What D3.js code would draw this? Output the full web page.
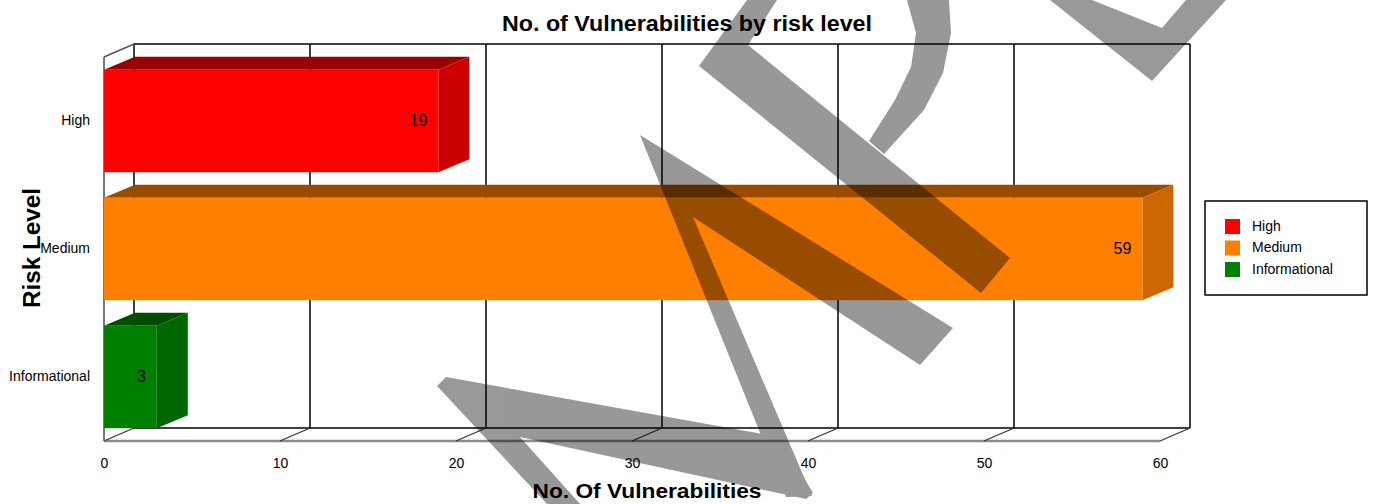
<!DOCTYPE html>
<html>
<head>
<meta charset="utf-8">
<script src="https://cdn.jsdelivr.net/npm/d3@7"></script>
<style>
  body { margin: 0; background: #fff; }
  svg { display: block; font-family: "Liberation Sans", Arial, sans-serif; }
</style>
</head>
<body>
<svg width="1373" height="504"></svg>
<script>
var categories = ["High", "Medium", "Informational"];
var values = [19, 59, 3];
var frontColors = ["#ff0000", "#ff8000", "#008000"];
var topColors = ["#990000", "#994c00", "#004c00"];
var sideColors = ["#cc0000", "#cc6600", "#006600"];
var xTicks = [0, 10, 20, 30, 40, 50, 60];

// grey watermark strokes laid over the picture
var watermark = [
  [[437,386],[446,377],[780,437],[813,493],[806,499],[520,437],[580,504],[547,504]],
  [[640,135],[953,328],[920,365],[693,217],[812,496],[786,497]],
  [[699,66],[747,0],[777,0],[748,45],[1010,258],[981,293]],
  [[907,0],[916,33],[911,67],[895,100],[869,141],[884,154],[924,110],[943,73],[951,33],[949,0]],
  [[1050,0],[1092,0],[1162,28],[1186,0],[1226,0],[1152,81]]
];

var svg = d3.select("svg");
var dx = 30, dy = -13;   // depth of the 3d box

var x = d3.scaleLinear().domain([0, 60]).range([104, 1160]);
var y = d3.scaleBand().domain(categories).range([57, 441])
    .paddingInner(0.2).paddingOuter(0.1);

var top0 = 57, bottom0 = 441;

var grid = svg.append("g");

// back wall
grid.selectAll("line.v")
  .data(xTicks)
  .enter().append("line")
    .attr("x1", d => x(d) + dx).attr("x2", d => x(d) + dx)
    .attr("y1", top0 + dy).attr("y2", bottom0 + dy)
    .attr("stroke", "#000").attr("stroke-width", 1.5);
grid.append("line")
    .attr("x1", x(0) + dx).attr("x2", x(60) + dx)
    .attr("y1", top0 + dy).attr("y2", top0 + dy)
    .attr("stroke", "#000").attr("stroke-width", 1.5);
grid.append("line")
    .attr("x1", x(0) + dx).attr("x2", x(60) + dx)
    .attr("y1", bottom0 + dy).attr("y2", bottom0 + dy)
    .attr("stroke", "#000").attr("stroke-width", 1.5);

// floor
grid.append("line")
    .attr("x1", x(0)).attr("x2", x(60))
    .attr("y1", bottom0).attr("y2", bottom0)
    .attr("stroke", "#8c8c8c").attr("stroke-width", 2.5);
grid.selectAll("line.d")
  .data(xTicks)
  .enter().append("line")
    .attr("x1", d => x(d)).attr("x2", d => x(d) + dx)
    .attr("y1", bottom0).attr("y2", bottom0 + dy)
    .attr("stroke", "#333").attr("stroke-width", 1.2);

// left wall
grid.append("line")
    .attr("x1", x(0)).attr("x2", x(0))
    .attr("y1", top0).attr("y2", bottom0)
    .attr("stroke", "#777").attr("stroke-width", 2);
grid.append("line")
    .attr("x1", x(0)).attr("x2", x(0) + dx)
    .attr("y1", top0).attr("y2", top0 + dy)
    .attr("stroke", "#555").attr("stroke-width", 1.5);

// bars
var bd = 31;
var bars = svg.append("g").selectAll("g")
  .data(categories)
  .enter().append("g");

bars.append("polygon")
    .attr("fill", (d, i) => topColors[i])
    .attr("points", (d, i) => {
      var x0 = x(0), x1 = x(values[i]), y0 = y(d);
      return [[x0, y0], [x1, y0], [x1 + bd, y0 + dy], [x0 + bd, y0 + dy]].join(" ");
    });
bars.append("polygon")
    .attr("fill", (d, i) => sideColors[i])
    .attr("points", (d, i) => {
      var x1 = x(values[i]), y0 = y(d), y1 = y(d) + y.bandwidth();
      return [[x1, y0], [x1 + bd, y0 + dy], [x1 + bd, y1 + dy], [x1, y1]].join(" ");
    });
bars.append("rect")
    .attr("fill", (d, i) => frontColors[i])
    .attr("x", x(0))
    .attr("y", d => y(d))
    .attr("width", (d, i) => x(values[i]) - x(0))
    .attr("height", y.bandwidth());
bars.append("text")
    .attr("x", (d, i) => x(values[i]) - 11)
    .attr("y", d => y(d) + y.bandwidth() / 2)
    .attr("dy", "0.3em")
    .attr("text-anchor", "end")
    .attr("font-size", 16)
    .text((d, i) => values[i]);

// axes
var xAxis = svg.append("g")
    .attr("transform", "translate(0," + bottom0 + ")")
    .call(d3.axisBottom(x).tickValues(xTicks).tickSize(0).tickPadding(17));
xAxis.select(".domain").remove();
xAxis.selectAll("text").attr("font-size", 14).attr("font-family", null).attr("fill", "#000");

var yAxis = svg.append("g")
    .attr("transform", "translate(" + x(0) + ",0)")
    .call(d3.axisLeft(y).tickSize(0).tickPadding(14));
yAxis.select(".domain").remove();
yAxis.selectAll("text").attr("font-size", 14).attr("font-family", null).attr("fill", "#000");

// titles
svg.append("text")
    .attr("x", 687).attr("y", 31)
    .attr("text-anchor", "middle")
    .attr("font-size", 22).attr("font-weight", "bold")
    .attr("textLength", 370).attr("lengthAdjust", "spacingAndGlyphs")
    .text("No. of Vulnerabilities by risk level");
svg.append("text")
    .attr("x", 647).attr("y", 498)
    .attr("text-anchor", "middle")
    .attr("font-size", 21).attr("font-weight", "bold")
    .attr("textLength", 229).attr("lengthAdjust", "spacingAndGlyphs")
    .text("No. Of Vulnerabilities");
svg.append("text")
    .attr("transform", "translate(40,248) rotate(-90)")
    .attr("text-anchor", "middle")
    .attr("font-size", 24).attr("font-weight", "bold")
    .attr("textLength", 120).attr("lengthAdjust", "spacingAndGlyphs")
    .text("Risk Level");

// legend
var legend = svg.append("g").attr("transform", "translate(1205,201)");
legend.append("rect")
    .attr("width", 162).attr("height", 94)
    .attr("fill", "#fff").attr("stroke", "#000").attr("stroke-width", 1.5);
var items = legend.selectAll("g")
  .data(categories)
  .enter().append("g")
    .attr("transform", (d, i) => "translate(20," + (25 + i * 21.5) + ")");
items.append("rect")
    .attr("x", 0).attr("y", -7).attr("width", 15).attr("height", 15)
    .attr("fill", (d, i) => frontColors[i]);
items.append("text")
    .attr("x", 27).attr("dy", "0.35em")
    .attr("font-size", 14)
    .text(d => d);

// watermark
svg.append("g")
    .attr("opacity", 0.4)
  .selectAll("polygon")
  .data(watermark)
  .enter().append("polygon")
    .attr("points", d => d.join(" "))
    .attr("fill", "#000");
</script>
</body>
</html>
